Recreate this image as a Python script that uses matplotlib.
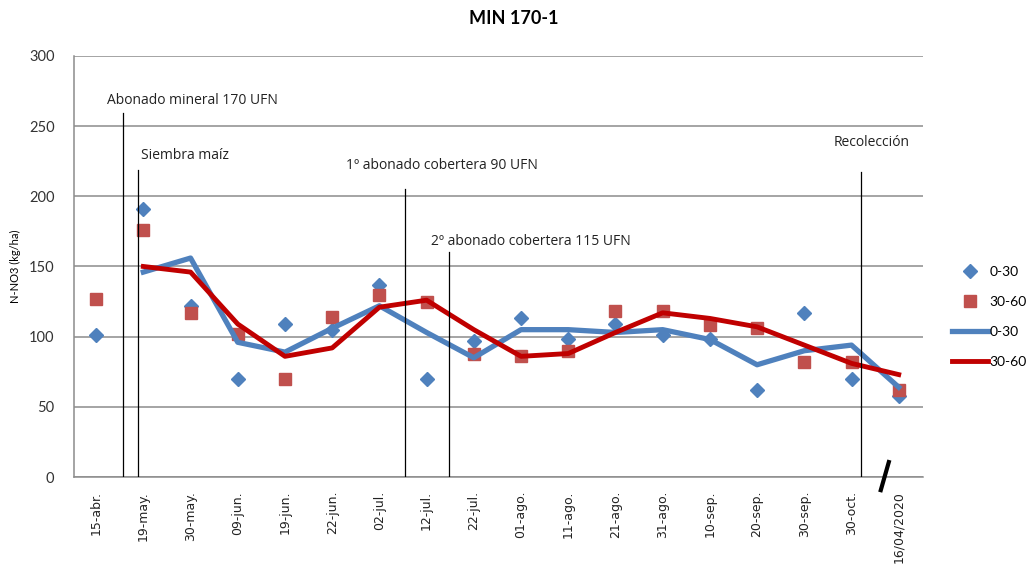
import matplotlib.pyplot as plt
import numpy as np

plt.rcParams['font.family'] = ['Lato', 'DejaVu Sans']

# fechas de muestreo
fechas = ['15-abr.', '19-may.', '30-may.', '09-jun.', '19-jun.', '22-jun.',
          '02-jul.', '12-jul.', '22-jul.', '01-ago.', '11-ago.', '21-ago.',
          '31-ago.', '10-sep.', '20-sep.', '30-sep.', '30-oct.', '16/04/2020']

# puntos medidos (kg/ha)
puntos_0_30 = [101, 191, 122, 70, 109, 105, 137, 70, 97, 113, 98, 109,
               101, 98, 62, 117, 70, 58]
puntos_30_60 = [127, 176, 117, 102, 70, 114, 130, 125, 88, 86, 90, 118,
                118, 108, 106, 82, 82, 62]

# líneas suavizadas (sin valor en 15-abr.)
linea_0_30 = [np.nan, 146, 156, 96, 89, 106, 122, 103, 85, 105, 105, 103,
              105, 98, 80, 90, 94, 64]
linea_30_60 = [np.nan, 150, 146, 109, 86, 92, 121, 126, 105, 86, 88, 103,
               117, 113, 107, 94, 81, 73]

# eventos de manejo: texto, posición de la línea (en fechas), altura, posición del texto
eventos = ['Abonado mineral 170 UFN', 'Siembra maíz', '1º abonado cobertera 90 UFN',
           '2º abonado cobertera 115 UFN', 'Recolección']
ev_x = [0.57, 0.89, 6.55, 7.48, 16.2]
ev_top = [259, 219, 205, 160, 217]
txt_x = [0.23, 0.96, 5.3, 7.1, 15.63]
txt_y = [268, 229, 222, 168, 238]

azul = '#4F81BD'
rojo_pt = '#C0504D'
rojo = '#C00000'

fig = plt.figure(figsize=(10.27, 5.70), dpi=100)
ax = fig.add_axes([0.072, 0.163, 0.827, 0.739])

x = np.arange(len(fechas))
ax.plot(x, puntos_0_30, 'D', color=azul, markersize=7, label='0-30', zorder=3)
ax.plot(x, puntos_30_60, 's', color=rojo_pt, markersize=8, label='30-60', zorder=3)
ax.plot(x, linea_0_30, color=azul, lw=3.8, label='0-30', zorder=4)
ax.plot(x, linea_30_60, color=rojo, lw=3.5, label='30-60', zorder=5)

# líneas verticales y textos de los eventos
for i in range(len(eventos)):
    ax.plot([ev_x[i], ev_x[i]], [0, ev_top[i]], color='black', lw=0.9, zorder=6)
    ax.text(txt_x[i], txt_y[i], eventos[i], fontsize=10, color='#222222',
            family=['Open Sans', 'DejaVu Sans'], ha='left', va='center', zorder=7)

ax.set_xlim(-0.47, 17.52)
ax.set_ylim(0, 300)
ax.set_yticks(np.arange(0, 301, 50))
ax.grid(axis='y', color='#8c8c8c', lw=1.1)
ax.set_axisbelow(True)
ax.set_xticks(x)
ax.set_xticklabels(fechas, rotation=90, fontsize=9, family='DejaVu Sans', color='#222222')
ax.tick_params(axis='both', length=0)
ax.tick_params(axis='x', pad=10)
ax.tick_params(axis='y', labelsize=10.5, labelcolor='#333333', pad=14)

for s in ['top', 'right']:
    ax.spines[s].set_visible(False)
for s in ['left', 'bottom']:
    ax.spines[s].set_color('#8c8c8c')
    ax.spines[s].set_linewidth(1.1)

ax.set_ylabel('N-NO3 (kg/ha)', fontsize=8, labelpad=6)

# marca de corte del eje
ax.plot([16.79, 16.62], [10.7, -9.3], color='black', lw=3, clip_on=False, zorder=8)

fig.text(0.5, 0.968, 'MIN 170-1', fontsize=13, fontweight='bold', ha='center', va='center')

ax.legend(loc='upper left', bbox_to_anchor=(0.915, 0.555), bbox_transform=fig.transFigure,
          frameon=False, fontsize=10, handlelength=2.6, labelspacing=1.3,
          handletextpad=0.1)

fig.savefig('out.png', dpi=100)
